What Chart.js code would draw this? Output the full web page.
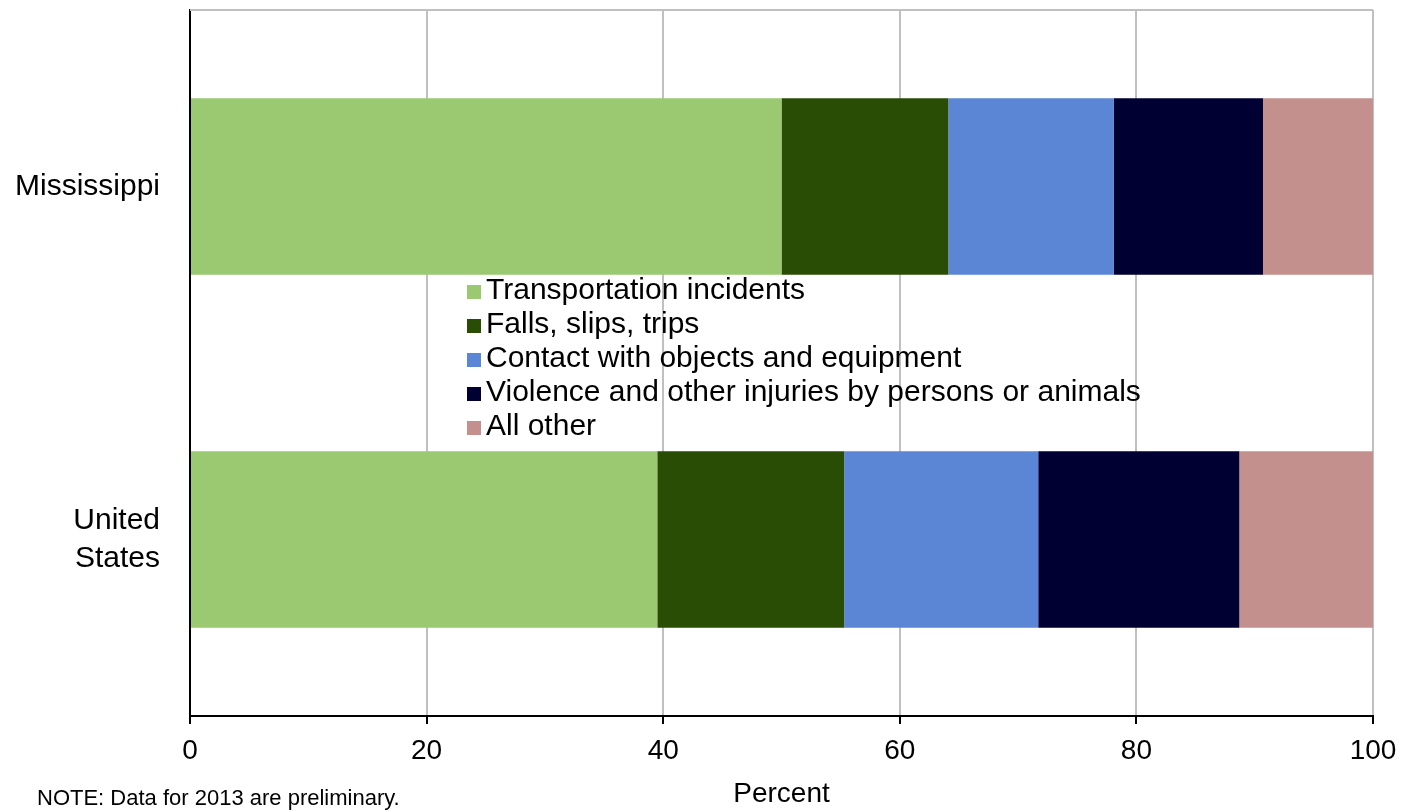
<!DOCTYPE html>
<html>
<head>
<meta charset="utf-8">
<script src="https://cdn.jsdelivr.net/npm/chart.js@4.4.1/dist/chart.umd.min.js"></script>
<style>
  html, body { margin: 0; padding: 0; background: #fff; }
  #wrap { position: relative; width: 1410px; height: 811px; }
</style>
</head>
<body>
<div id="wrap"><canvas id="injuryChart" width="1410" height="811"></canvas></div>
<script>
// categories (top to bottom)
const states = [["Mississippi"], ["United", "States"]];

// percent of fatal work injuries by event, 2013
const transportation = [50.0, 39.5];
const falls = [14.1, 15.8];
const contact = [14.0, 16.4];
const violence = [12.6, 17.0];
const allOther = [9.3, 11.3];

const seriesNames = [
    "Transportation incidents",
    "Falls, slips, trips",
    "Contact with objects and equipment",
    "Violence and other injuries by persons or animals",
    "All other"
];
const seriesColors = ["#9BC972", "#2A4D06", "#5B86D6", "#000033", "#C4908E"];
const xTicks = [0, 20, 40, 60, 80, 100];

const FONT = "'Liberation Sans', Arial, sans-serif";

// legend drawn inside the plot, plus the top border and the note
const extras = {
    id: "extras",
    afterDraw(chart) {
        const ctx = chart.ctx;
        const area = chart.chartArea;
        ctx.save();

        ctx.strokeStyle = "#c0c0c0";
        ctx.lineWidth = 2;
        ctx.beginPath();
        ctx.moveTo(area.left, area.top);
        ctx.lineTo(area.right, area.top);
        ctx.stroke();

        ctx.font = "30px " + FONT;
        ctx.textBaseline = "middle";
        ctx.textAlign = "left";
        chart.data.datasets.forEach((ds, i) => {
            const y = 291 + i * 34;
            ctx.fillStyle = ds.backgroundColor;
            ctx.fillRect(467, y - 6, 14, 14);
            ctx.fillStyle = "#000";
            ctx.fillText(ds.label, 486, y);
        });

        ctx.font = "22px " + FONT;
        ctx.textBaseline = "alphabetic";
        ctx.fillText("NOTE: Data for 2013 are preliminary.", 37, 805);
        ctx.restore();
    }
};

const values = [transportation, falls, contact, violence, allOther];

new Chart(document.getElementById("injuryChart"), {
    type: "bar",
    data: {
        labels: states,
        datasets: values.map((v, i) => ({
            label: seriesNames[i],
            data: v,
            backgroundColor: seriesColors[i],
            borderWidth: 0,
            categoryPercentage: 1.0,
            barPercentage: 0.5
        }))
    },
    options: {
        indexAxis: "y",
        responsive: false,
        animation: false,
        layout: { padding: { left: 0, right: 37, top: 10, bottom: 0 } },
        plugins: {
            legend: { display: false },
            tooltip: { enabled: false }
        },
        scales: {
            x: {
                stacked: true,
                min: 0,
                max: 100,
                afterBuildTicks(scale) {
                    scale.ticks = xTicks.map(v => ({ value: v }));
                },
                afterFit(scale) {
                    scale.height = 95;
                    scale.paddingLeft = 0;
                    scale.paddingRight = 0;
                },
                grid: {
                    color: "#c0c0c0",
                    lineWidth: 2,
                    tickColor: "#000",
                    tickLength: 8,
                    tickWidth: 2
                },
                border: { color: "#000", width: 2 },
                ticks: {
                    color: "#000",
                    font: { family: FONT, size: 28 },
                    padding: 10,
                    maxRotation: 0
                },
                title: {
                    display: true,
                    text: "Percent",
                    color: "#000",
                    font: { family: FONT, size: 28 },
                    padding: { top: 0, bottom: 0 }
                }
            },
            y: {
                stacked: true,
                afterFit(scale) {
                    scale.width = 190;
                    scale.paddingTop = 0;
                    scale.paddingBottom = 0;
                },
                grid: { display: false },
                border: { color: "#000", width: 2 },
                ticks: {
                    color: "#000",
                    font: { family: FONT, size: 30, lineHeight: 1.25 },
                    padding: 22
                }
            }
        }
    },
    plugins: [extras]
});
</script>
</body>
</html>
